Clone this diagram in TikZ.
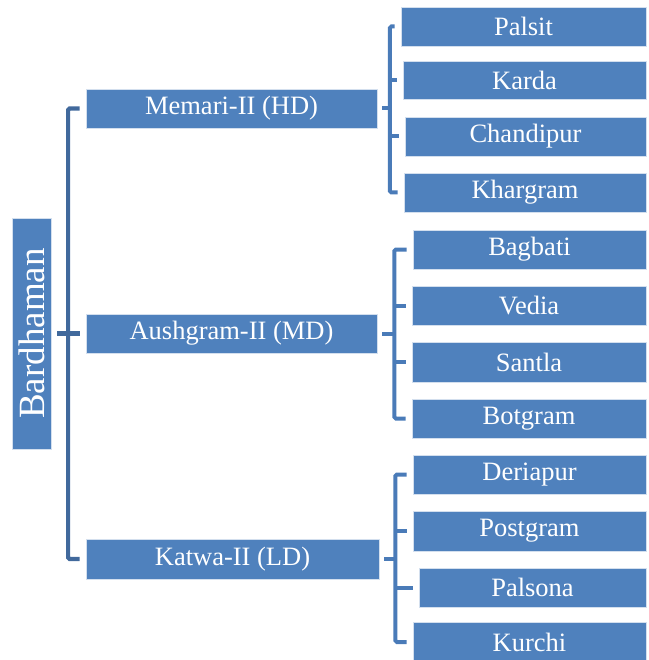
\documentclass[tikz,border=0pt]{standalone}
\usepackage{fontspec}
\setmainfont{Liberation Serif}
\usepackage{tikz}
\usetikzlibrary{positioning,calc}

\definecolor{boxblue}{HTML}{4F81BD}
\definecolor{trunkblue}{HTML}{41699C}
\definecolor{twigblue}{HTML}{4A7BB8}

\tikzset{
  unit/.style={fill=boxblue,draw=white!75!boxblue,line width=0.8pt,text=white,
    inner sep=0pt,minimum height=39,font=\fontsize{26.5}{28}\selectfont},
  block/.style={unit,minimum width=291},
  village/.style={unit},
  trunk/.style={draw=trunkblue,line width=4.2pt,rounded corners=1.5pt},
  twig/.style={draw=twigblue,line width=4pt,rounded corners=1.5pt}
}

\begin{document}
\begin{tikzpicture}[x=1pt,y=-1pt]
\useasboundingbox (0,0) rectangle (648,660);

\node[unit,rotate=90,minimum width=231,minimum height=39,
  font=\fontsize{37}{40}\selectfont] (bard) at (31.5,333.5) {Bardhaman};

\node[block] (memari) at (231.5,108.5) {Memari-II (HD)};
\node[block] (aush) at (231.5,333.5) {Aushgram-II (MD)};
\node[block,minimum width=293,minimum height=40] (katwa) at (232.5,559) {Katwa-II (LD)};

\node[village,minimum width=245] (palsit) at (523.5,26.5) {Palsit};
\node[village,minimum width=243,minimum height=38] (karda) at (524.5,80) {Karda};
\node[village,minimum width=241] (chandi) at (525.5,136.5) {Chandipur};
\node[village,minimum width=242] (khar) at (525,192.5) {Khargram};

\node[village,minimum width=233] (bagbati) at (529.5,249.5) {Bagbati};
\node[village,minimum width=234] (vedia) at (529,305.5) {Vedia};
\node[village,minimum width=234,minimum height=40] (santla) at (529,362) {Santla};
\node[village,minimum width=234] (botgram) at (529,418.5) {Botgram};

\node[village,minimum width=233] (deria) at (529.5,474.5) {Deriapur};
\node[village,minimum width=233,minimum height=40] (postgram) at (529.5,531) {Postgram};
\node[village,minimum width=227] (palsona) at (532.5,587.5) {Palsona};
\node[village,minimum width=233] (kurchi) at (529.5,642) {Kurchi};

% district to blocks
\draw[trunk] ([xshift=6]bard.south) -- ([xshift=-6]aush.west);
\draw[trunk] ([xshift=-6]memari.west) -- ++(-11.5,0) |- ([xshift=-6]katwa.west);

% Memari-II
\draw[twig] ([xshift=5]memari.east) -- ++(7.5,0) coordinate (m);
\draw[twig] ([xshift=-6]palsit.west) -| (m) |- ([xshift=-6]khar.west);
\draw[twig] (m |- karda.west) -- ([xshift=-6]karda.west);
\draw[twig] (m |- chandi.west) -- ([xshift=-6]chandi.west);

% Aushgram-II
\draw[twig] ([xshift=5]aush.east) -- ++(12,0) coordinate (a);
\draw[twig] ([xshift=-6]bagbati.west) -| (a) |- ([xshift=-6]botgram.west);
\draw[twig] (a |- vedia.west) -- ([xshift=-6]vedia.west);
\draw[twig] (a |- santla.west) -- ([xshift=-6]santla.west);

% Katwa-II
\draw[twig] ([xshift=5]katwa.east) -- ++(11,0) coordinate (k);
\draw[twig] ([xshift=-6]deria.west) -| (k) |- ([xshift=-6]kurchi.west);
\draw[twig] (k |- postgram.west) -- ([xshift=-6]postgram.west);
\draw[twig] (k |- palsona.west) -- ([xshift=-6]palsona.west);
\end{tikzpicture}
\end{document}
